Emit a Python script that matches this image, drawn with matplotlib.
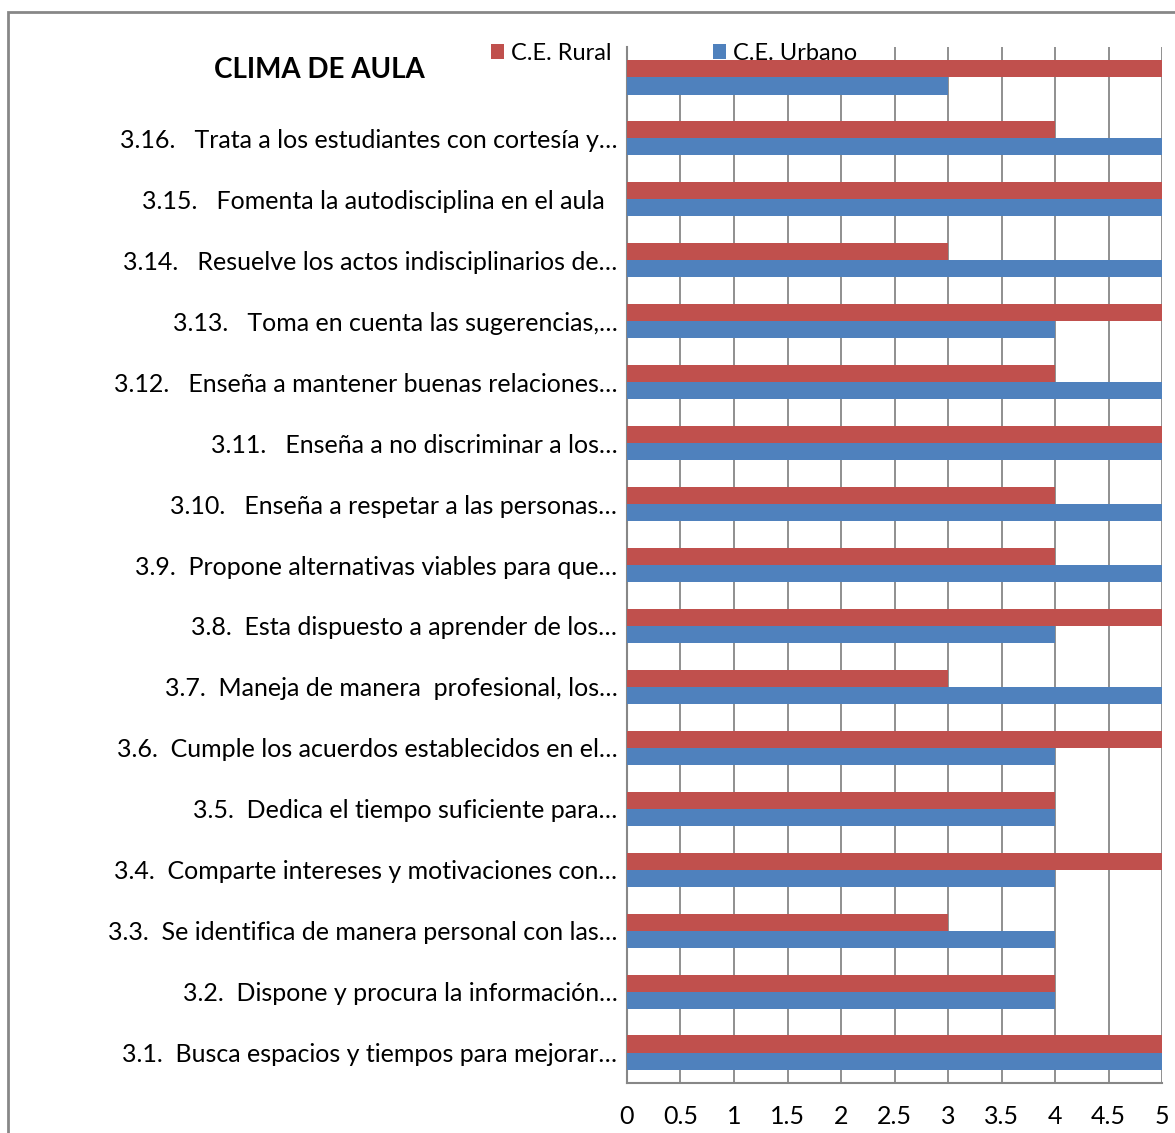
import matplotlib.pyplot as plt
from matplotlib.patches import Rectangle
import numpy as np

# bottom (3.1) to top (unlabeled row)
labels = ['3.1.  Busca espacios y tiempos para mejorar…',
          '3.2.  Dispone y procura la información…',
          '3.3.  Se identifica de manera personal con las…',
          '3.4.  Comparte intereses y motivaciones con…',
          '3.5.  Dedica el tiempo suficiente para…',
          '3.6.  Cumple los acuerdos establecidos en el…',
          '3.7.  Maneja de manera  profesional, los…',
          '3.8.  Esta dispuesto a aprender de los…',
          '3.9.  Propone alternativas viables para que…',
          '3.10.   Enseña a respetar a las personas…',
          '3.11.   Enseña a no discriminar a los…',
          '3.12.   Enseña a mantener buenas relaciones…',
          '3.13.   Toma en cuenta las sugerencias,…',
          '3.14.   Resuelve los actos indisciplinarios de…',
          '3.15.   Fomenta la autodisciplina en el aula  ',
          '3.16.   Trata a los estudiantes con cortesía y…',
          '']
rural = [5, 4, 3, 5, 4, 5, 3, 5, 4, 4, 5, 4, 5, 3, 5, 4, 5]
urbano = [5, 4, 4, 4, 4, 4, 5, 4, 5, 5, 5, 5, 4, 5, 5, 5, 3]
xticks = [0, 0.5, 1, 1.5, 2, 2.5, 3, 3.5, 4, 4.5, 5]
xtick_labels = ['0', '0.5', '1', '1.5', '2', '2.5', '3', '3.5', '4', '4.5', '5']

plt.rcParams['font.family'] = ['Lato', 'DejaVu Sans']

fig = plt.figure(figsize=(11.75, 11.33), dpi=100)
ax = fig.add_axes([0.5336, 0.0441, 0.989 - 0.5336, 0.9585 - 0.0441])

y = np.arange(len(labels))
h = 0.28
ax.barh(y + h / 2, rural, height=h, color='#C0504D', label='C.E. Rural', zorder=3)
ax.barh(y - h / 2, urbano, height=h, color='#4F81BD', label='C.E. Urbano', zorder=3)

ax.set_xlim(0, 5)
ax.set_ylim(-0.5, len(labels) - 0.5)
ax.set_yticks(y)
ax.set_yticklabels(labels, fontsize=18)
ax.set_xticks(xticks)
ax.set_xticklabels(xtick_labels, fontsize=18)
ax.tick_params(axis='y', length=0, pad=7)
ax.tick_params(axis='x', length=0, pad=16)

ax.set_axisbelow(True)
ax.grid(axis='x', color='#878787', linewidth=1.3)
for s in ['top', 'right']:
    ax.spines[s].set_visible(False)
for s in ['left', 'bottom']:
    ax.spines[s].set_color('#878787')
    ax.spines[s].set_linewidth(1.5)

# legend sits under the bars but over the gridlines
leg = ax.legend(loc='center left', bbox_to_anchor=(0.415, 0.953),
                bbox_transform=fig.transFigure, ncol=2,
                frameon=True, fontsize=17, handlelength=0.55, handleheight=0.55,
                handletextpad=0.3, columnspacing=4.3, borderpad=0.15,
                borderaxespad=0)
leg.get_frame().set_edgecolor('none')
leg.get_frame().set_facecolor('white')
leg.get_frame().set_alpha(1)
leg.set_zorder(2)

fig.text(0.272, 0.938, 'CLIMA DE AULA', fontsize=20, fontweight='bold',
         ha='center', va='center')

fig.patches.append(Rectangle((8 / 1175, -0.05), 1.1, 1 - 12 / 1133 + 0.05,
                             transform=fig.transFigure, fill=False,
                             edgecolor='#878787', linewidth=2))

fig.savefig('out.png', dpi=100)
